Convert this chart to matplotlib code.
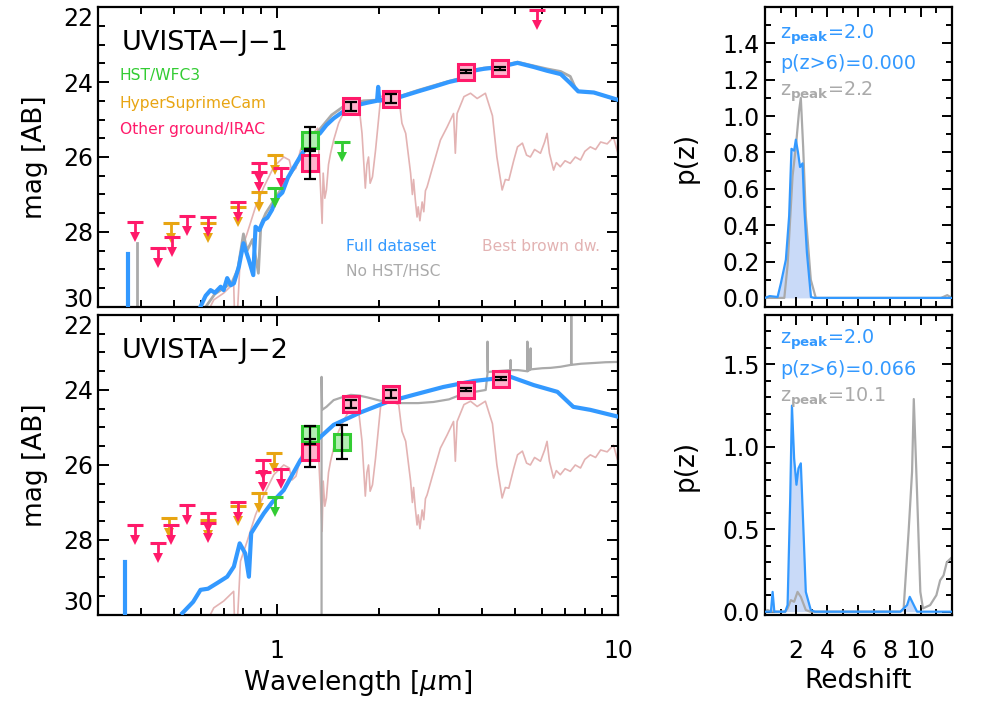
import numpy as np
import matplotlib
matplotlib.use("Agg")
import matplotlib.pyplot as plt
from matplotlib.ticker import MultipleLocator, FixedLocator, NullFormatter

plt.rcParams['font.family'] = ['DejaVu Sans']
plt.rcParams['mathtext.fontset'] = 'dejavusans'

BLUE = '#3399ff'
GRAY = '#aaaaaa'
BROWN = '#e3b3b3'
PINK = '#ff1a6a'
ORANGE = '#e8a512'
GREEN = '#33cc33'

# ---------------- photometry, object 1 ----------------
ul1_pink_lam = [0.386, 0.449, 0.493, 0.548, 0.628, 0.769, 0.89, 0.89, 1.03, 5.8]
ul1_pink_mag = [27.73, 28.43, 28.13, 27.57, 27.60, 27.20, 26.15, 26.40, 26.30, 22.08]
ul1_orange_lam = [0.49, 0.628, 0.769, 0.89, 0.987]
ul1_orange_mag = [27.75, 27.75, 27.33, 26.93, 25.95]
ul1_green_lam = [0.987, 1.55]
ul1_green_mag = [26.83, 25.60]
det1_pink_lam = [1.25, 1.65, 2.16, 3.6, 4.5]
det1_pink_mag = [26.17, 24.64, 24.45, 23.73, 23.63]
det1_pink_elo = [0.32, 0.12, 0.12, 0.04, 0.04]
det1_pink_ehi = [0.43, 0.12, 0.12, 0.04, 0.04]
det1_green_lam = [1.25]
det1_green_mag = [25.55]
det1_green_elo = [0.35]
det1_green_ehi = [0.25]

# ---------------- photometry, object 2 ----------------
ul2_pink_lam = [0.384, 0.449, 0.49, 0.548, 0.628, 0.628, 0.77, 0.91, 0.91, 1.03]
ul2_pink_mag = [27.60, 28.08, 27.60, 27.07, 27.29, 27.55, 27.00, 25.87, 26.19, 26.12]
ul2_orange_lam = [0.483, 0.628, 0.77, 0.886, 0.98]
ul2_orange_mag = [27.42, 27.47, 27.10, 26.75, 25.68]
ul2_green_lam = [0.99]
ul2_green_mag = [26.85]
det2_pink_lam = [1.25, 1.65, 2.16, 3.58, 4.53]
det2_pink_mag = [25.65, 24.37, 24.11, 24.00, 23.70]
det2_pink_elo = [0.35, 0.10, 0.10, 0.04, 0.04]
det2_pink_ehi = [0.40, 0.10, 0.10, 0.04, 0.04]
det2_green_lam = [1.25, 1.55]
det2_green_mag = [25.17, 25.39]
det2_green_elo = [0.21, 0.46]
det2_green_ehi = [0.27, 0.45]

# ---------------- best fit SEDs ----------------
blue1_lam = [0.599, 0.62, 0.641, 0.66, 0.686, 0.70, 0.717, 0.735, 0.75, 0.776, 0.80, 0.83,
             0.855, 0.868, 0.89, 0.918, 0.94, 0.97, 1.0, 1.04, 1.08, 1.12, 1.18, 1.26, 1.34,
             1.40, 1.47, 1.55, 1.65, 1.75, 1.85, 1.97, 1.985, 2.0, 2.1, 2.3, 2.6, 2.88, 3.2,
             3.46, 3.6, 4.04, 4.5, 5.08, 5.67, 6.2, 6.8, 7.25, 7.65, 8.5, 10.2]
blue1_mag = [29.99, 29.7, 29.55, 29.62, 29.46, 29.55, 29.23, 29.42, 29.37, 28.92, 28.3, 28.75,
             29.15, 27.86, 27.95, 27.68, 27.62, 27.41, 27.1, 26.95, 26.55, 26.3, 25.95, 25.55,
             25.37, 25.15, 24.97, 24.82, 24.67, 24.6, 24.55, 24.5, 24.13, 24.5, 24.45, 24.4,
             24.25, 24.13, 24.0, 23.93, 23.73, 23.65, 23.6, 23.49, 23.6, 23.7, 23.79, 24.03,
             24.25, 24.28, 24.5]
gray1_lam = [0.62, 0.66, 0.70, 0.74, 0.77, 0.80, 0.82, 0.85, 0.87, 0.885, 0.90, 0.93, 1.0,
             1.1, 1.2, 1.3, 1.45, 1.6, 1.8, 2.0, 2.3, 2.6, 2.88, 3.2, 3.46, 3.6, 4.04, 4.5,
             5.08, 5.67, 6.2, 6.8, 7.25, 7.5, 7.65, 8.5, 10.2]
gray1_mag = [30.0, 29.65, 29.5, 29.35, 29.0, 28.05, 28.5, 28.2, 28.7, 29.1, 27.8, 27.5, 27.05,
             26.45, 25.9, 25.4, 24.88, 24.6, 24.5, 24.48, 24.38, 24.22, 24.1, 23.98, 23.9,
             23.72, 23.63, 23.58, 23.47, 23.57, 23.65, 23.72, 23.85, 24.15, 24.25, 24.28, 24.5]

blue2_lam = [0.53, 0.57, 0.599, 0.63, 0.67, 0.717, 0.75, 0.78, 0.81, 0.83, 0.843, 0.88,
             0.918, 0.97, 1.05, 1.175, 1.316, 1.47, 1.76, 2.11, 2.52, 3.08, 3.78, 4.85, 5.67,
             6.65, 7.4, 8.3, 10.2]
blue2_mag = [29.95, 29.65, 29.33, 29.3, 29.15, 28.98, 28.71, 28.09, 28.36, 28.98, 27.82, 27.55,
             27.29, 27.0, 26.67, 25.87, 25.33, 24.93, 24.6, 24.32, 24.13, 23.92, 23.76, 23.65,
             23.87, 24.05, 24.45, 24.53, 24.73]
gray2_lam = [1.355, 1.355, 1.36, 1.40, 1.47, 1.55, 1.65, 1.75, 1.85, 2.0, 2.3, 2.6, 2.88,
             3.2, 3.46, 3.8, 4.1, 4.15, 4.15, 4.16, 4.4, 4.84, 4.85, 4.86, 5.1, 5.42, 5.43,
             5.44, 5.54, 5.55, 5.56, 6.0, 6.35, 6.8, 7.29, 7.3, 7.31, 7.8, 8.5, 9.2, 10.2]
gray2_mag = [30.5, 23.65, 24.53, 24.45, 24.27, 24.2, 24.13, 24.15, 24.2, 24.28, 24.35, 24.35,
             24.32, 24.25, 24.13, 24.05, 24.0, 23.55, 22.71, 23.52, 23.5, 23.47, 23.2, 23.47,
             23.47, 23.5, 22.71, 23.5, 23.45, 22.89, 23.45, 23.42, 23.41, 23.38, 23.33, 22.0,
             23.33, 23.3, 23.28, 23.26, 23.25]

uv_blue1 = [0.368, 28.6]
uv_gray1 = [0.39, 28.3]
uv_blue2 = [0.36, 28.6]

bd_lam = [0.60, 0.655, 0.70, 0.749, 0.755, 0.765, 0.784, 0.82, 0.868, 0.918, 0.982, 1.05,
          1.09, 1.11, 1.14, 1.175, 1.23, 1.26, 1.30, 1.32, 1.345, 1.36, 1.37, 1.385, 1.40,
          1.42, 1.44, 1.47, 1.52, 1.575, 1.65, 1.74, 1.78, 1.82, 1.84, 1.86, 1.88, 1.91,
          1.95, 2.02, 2.16, 2.28, 2.33, 2.39, 2.47, 2.50, 2.52, 2.55, 2.58, 2.60, 2.63, 2.67,
          2.70, 2.73, 2.76, 2.85, 3.02, 3.16, 3.30, 3.34, 3.38, 3.54, 3.70, 3.87, 4.09, 4.29,
          4.42, 4.58, 4.68, 4.79, 4.95, 5.08, 5.25, 5.4, 5.54, 5.7, 5.93, 6.1, 6.2, 6.3, 6.48,
          6.6, 6.78, 7.0, 7.25, 7.5, 7.77, 8.0, 8.3, 8.6, 8.9, 9.3, 9.7, 10.0]
bd_mag = [30.5, 29.81, 29.63, 29.37, 30.5, 30.5, 28.57, 28.04, 27.33, 26.8, 26.26, 26.0,
          26.08, 26.4, 26.3, 25.82, 25.37, 25.4, 25.3, 25.23, 26.8, 27.77, 26.43, 27.1, 26.88,
          26.2, 25.9, 25.55, 25.1, 24.8, 24.48, 24.55, 25.37, 26.83, 26.2, 26.0, 26.7, 26.53,
          25.82, 24.39, 24.3, 24.39, 25.1, 25.37, 26.43, 27.0, 26.6, 27.15, 27.6, 27.33, 27.7,
          27.2, 27.46, 26.9, 26.8, 26.35, 25.55, 25.2, 24.84, 25.9, 24.84, 24.39, 24.3, 24.44,
          24.3, 24.9, 26.0, 26.88, 26.6, 26.62, 26.1, 25.73, 25.63, 25.95, 26.0, 25.8, 25.9,
          25.6, 25.37, 25.9, 26.35, 26.15, 26.26, 26.1, 26.17, 26.0, 26.08, 25.85, 25.73, 25.8,
          25.6, 25.65, 25.47, 25.9]

# ---------------- p(z) ----------------
pz1_blue_z = [0.0, 0.3, 0.81, 1.02, 1.34, 1.55, 1.7, 1.87, 1.98, 2.12, 2.25, 2.41, 2.52,
              2.69, 2.95, 3.16, 12.0]
pz1_blue_p = [0.0, 0.01, 0.005, 0.08, 0.21, 0.45, 0.82, 0.81, 0.87, 0.8, 0.72, 0.74, 0.5,
              0.25, 0.005, 0.0, 0.0]
pz1_gray_z = [0.0, 1.24, 1.45, 1.77, 1.98, 2.19, 2.3, 2.45, 2.62, 2.94, 3.26, 11.3, 11.7, 12.0]
pz1_gray_p = [0.0, 0.0, 0.18, 0.67, 0.83, 1.03, 1.1, 0.83, 0.45, 0.1, 0.0, 0.0, 0.015, 0.0]

pz2_blue_z = [0.0, 0.38, 0.49, 0.6, 1.3, 1.45, 1.62, 1.73, 1.87, 2.02, 2.15, 2.3, 2.47, 2.62,
              2.94, 3.2, 8.69, 9.12, 9.29, 9.55, 9.76, 12.0]
pz2_blue_p = [0.0, 0.0, 0.12, 0.0, 0.0, 0.04, 0.69, 1.25, 0.93, 0.77, 0.87, 0.9, 0.49, 0.12,
              0.01, 0.0, 0.0, 0.04, 0.09, 0.04, 0.0, 0.0]
pz2_gray_z = [0.0, 0.17, 0.4, 1.3, 1.45, 1.66, 1.87, 2.09, 2.3, 2.62, 2.9, 8.7, 8.9, 9.22,
              9.44, 9.55, 9.76, 9.97, 10.14, 10.6, 11.0, 11.24, 11.46, 11.67, 12.0]
pz2_gray_p = [0.0, 0.01, 0.0, 0.0, 0.02, 0.07, 0.06, 0.12, 0.09, 0.01, 0.0, 0.0, 0.02, 0.49,
              0.85, 1.29, 0.72, 0.12, 0.02, 0.04, 0.1, 0.19, 0.22, 0.3, 0.33]


def upper(ax, lam, mag, col):
    lam = np.array(lam)
    mag = np.array(mag)
    for l, m in zip(lam, mag):
        ax.plot([l, l], [m, m + 0.36], color=col, lw=2, zorder=4)
    ax.plot(lam, mag, ls='none', marker='_', ms=12, mew=2.2, color=col, zorder=4)
    ax.plot(lam, mag + 0.40, ls='none', marker='v', ms=7.5, color=col, mew=0, zorder=4)


def detections(ax, lam, mag, elo, ehi, face, edge):
    ax.plot(lam, mag, ls='none', marker='s', ms=11.5, mfc=face, mec=edge, mew=2.2, zorder=5)
    ax.errorbar(lam, mag, yerr=[elo, ehi], fmt='none', ecolor='k', elinewidth=1.6,
                capsize=4, capthick=1.6, zorder=6)


def style_sed(ax, top_va):
    ax.set_xscale('log')
    ax.xaxis.set_major_locator(FixedLocator([1, 10]))
    ax.xaxis.set_minor_locator(FixedLocator([0.3, 0.4, 0.5, 0.6, 0.7, 0.8, 0.9,
                                             2, 3, 4, 5, 6, 7, 8, 9]))
    ax.xaxis.set_minor_formatter(NullFormatter())
    ax.set_yticks([22, 24, 26, 28, 30])
    ax.set_yticklabels(['22', '24', '26', '28', '30'])
    ax.yaxis.set_minor_locator(MultipleLocator(0.5))
    ax.set_xlim(0.3, 10)
    ax.set_ylim(30, 22)
    ax.tick_params(which='both', direction='in', top=True, right=True, width=1.4,
                   labelsize=17)
    ax.tick_params(which='major', length=8)
    ax.tick_params(which='minor', length=5)
    for s in ax.spines.values():
        s.set_linewidth(1.6)
    labs = ax.get_yticklabels()
    labs[0].set_va('top')
    labs[-1].set_va(top_va)
    ax.set_ylabel('mag [AB]', fontsize=19, labelpad=11)


def style_pz(ax, ymin, ymax, ticks, minor):
    ax.xaxis.set_major_locator(FixedLocator([2, 4, 6, 8, 10]))
    ax.xaxis.set_minor_locator(MultipleLocator(1))
    ax.set_yticks(ticks)
    ax.set_yticklabels(['%.1f' % t for t in ticks])
    ax.yaxis.set_minor_locator(MultipleLocator(minor))
    ax.set_xlim(0, 12)
    ax.set_ylim(ymin, ymax)
    ax.tick_params(which='both', direction='in', top=True, right=True, width=1.4,
                   labelsize=17)
    ax.tick_params(which='major', length=7)
    ax.tick_params(which='minor', length=4)
    for s in ax.spines.values():
        s.set_linewidth(1.6)
    ax.set_ylabel('p(z)', fontsize=19, labelpad=17)


fig = plt.figure(figsize=(9.81, 7.08), dpi=100)
ax1 = fig.add_axes([0.0999, 0.5664, 0.530, 0.4237])
ax2 = fig.add_axes([0.0999, 0.1314, 0.530, 0.4237])
ax3 = fig.add_axes([0.7798, 0.5664, 0.1906, 0.4237])
ax4 = fig.add_axes([0.7798, 0.1314, 0.1906, 0.4237])

# --- object 1 SED ---
ax1.plot(bd_lam, bd_mag, color=BROWN, lw=1.2, zorder=1)
ax1.plot([uv_gray1[0]] * 2, [uv_gray1[1], 30.5], color=GRAY, lw=2, zorder=2)
ax1.plot(gray1_lam, gray1_mag, color=GRAY, lw=2, zorder=2)
ax1.plot([uv_blue1[0]] * 2, [uv_blue1[1], 30.5], color=BLUE, lw=3, zorder=3)
ax1.plot(blue1_lam, blue1_mag, color=BLUE, lw=3, zorder=3)
upper(ax1, ul1_orange_lam, ul1_orange_mag, ORANGE)
upper(ax1, ul1_pink_lam, ul1_pink_mag, PINK)
upper(ax1, ul1_green_lam, ul1_green_mag, GREEN)
detections(ax1, det1_green_lam, det1_green_mag, det1_green_elo, det1_green_ehi,
           '#b3efb3', GREEN)
detections(ax1, det1_pink_lam, det1_pink_mag, det1_pink_elo, det1_pink_ehi,
           '#ffb3cc', PINK)
style_sed(ax1, 'baseline')
ax1.set_xticklabels([])
ax1.text(0.046, 0.88, 'UVISTA−J−1', transform=ax1.transAxes, fontsize=19.5, va='center')
ax1.text(0.042, 0.773, 'HST/WFC3', transform=ax1.transAxes, fontsize=11.2, color=GREEN,
         va='center')
ax1.text(0.042, 0.68, 'HyperSuprimeCam', transform=ax1.transAxes, fontsize=11.2,
         color=ORANGE, va='center')
ax1.text(0.042, 0.593, 'Other ground/IRAC', transform=ax1.transAxes, fontsize=11.2,
         color=PINK, va='center')
ax1.text(0.477, 0.2, 'Full dataset', transform=ax1.transAxes, fontsize=11.2, color=BLUE,
         va='center')
ax1.text(0.477, 0.117, 'No HST/HSC', transform=ax1.transAxes, fontsize=11.2, color=GRAY,
         va='center')
ax1.text(0.738, 0.2, 'Best brown dw.', transform=ax1.transAxes, fontsize=11.2,
         color=BROWN, va='center')

# --- object 2 SED ---
ax2.plot(bd_lam, bd_mag, color=BROWN, lw=1.2, zorder=1)
ax2.plot(gray2_lam, gray2_mag, color=GRAY, lw=1.6, zorder=2)
ax2.plot([uv_blue2[0]] * 2, [uv_blue2[1], 30.5], color=BLUE, lw=3, zorder=3)
ax2.plot(blue2_lam, blue2_mag, color=BLUE, lw=3, zorder=3)
upper(ax2, ul2_orange_lam, ul2_orange_mag, ORANGE)
upper(ax2, ul2_pink_lam, ul2_pink_mag, PINK)
upper(ax2, ul2_green_lam, ul2_green_mag, GREEN)
detections(ax2, det2_green_lam, det2_green_mag, det2_green_elo, det2_green_ehi,
           '#b3efb3', GREEN)
detections(ax2, det2_pink_lam, det2_pink_mag, det2_pink_elo, det2_pink_ehi,
           '#ffb3cc', PINK)
style_sed(ax2, 'bottom')
ax2.set_xticklabels(['1', '10'])
ax2.tick_params(axis='x', pad=17)
ax2.set_xlabel(r'Wavelength [$\mu$m]', fontsize=19, labelpad=4)
ax2.text(0.046, 0.88, 'UVISTA−J−2', transform=ax2.transAxes, fontsize=19.5, va='center')

# --- p(z) panels ---
ax3.fill_between(pz1_blue_z, pz1_blue_p, 0, color='#c9daf8', lw=0, zorder=1)
ax3.plot(pz1_gray_z, pz1_gray_p, color=GRAY, lw=1.6, zorder=2)
ax3.plot(pz1_blue_z, pz1_blue_p, color=BLUE, lw=1.6, zorder=3)
style_pz(ax3, -0.05, 1.6, [0.0, 0.2, 0.4, 0.6, 0.8, 1.0, 1.2, 1.4], 0.1)
ax3.set_xticklabels([])
ax3.text(0.08, 0.907, r'z$_{\bf peak}$=2.0', transform=ax3.transAxes, fontsize=13.8,
         color=BLUE, va='center')
ax3.text(0.08, 0.813, 'p(z>6)=0.000', transform=ax3.transAxes, fontsize=13.8, color=BLUE,
         va='center')
ax3.text(0.08, 0.717, r'z$_{\bf peak}$=2.2', transform=ax3.transAxes, fontsize=13.8,
         color=GRAY, va='center')

ax4.fill_between(pz2_blue_z, pz2_blue_p, 0, color='#c9daf8', lw=0, zorder=1)
ax4.plot(pz2_gray_z, pz2_gray_p, color=GRAY, lw=1.6, zorder=2)
ax4.plot(pz2_blue_z, pz2_blue_p, color=BLUE, lw=1.6, zorder=3)
style_pz(ax4, -0.02, 1.8, [0.0, 0.5, 1.0, 1.5], 0.1)
ax4.set_xticklabels(['2', '4', '6', '8', '10'])
ax4.tick_params(axis='x', pad=17)
ax4.set_xlabel('Redshift', fontsize=19, labelpad=4)
ax4.text(0.08, 0.917, r'z$_{\bf peak}$=2.0', transform=ax4.transAxes, fontsize=13.8,
         color=BLUE, va='center')
ax4.text(0.08, 0.817, 'p(z>6)=0.066', transform=ax4.transAxes, fontsize=13.8, color=BLUE,
         va='center')
ax4.text(0.08, 0.723, r'z$_{\bf peak}$=10.1', transform=ax4.transAxes, fontsize=13.8,
         color=GRAY, va='center')

fig.savefig('out.png', dpi=100)
